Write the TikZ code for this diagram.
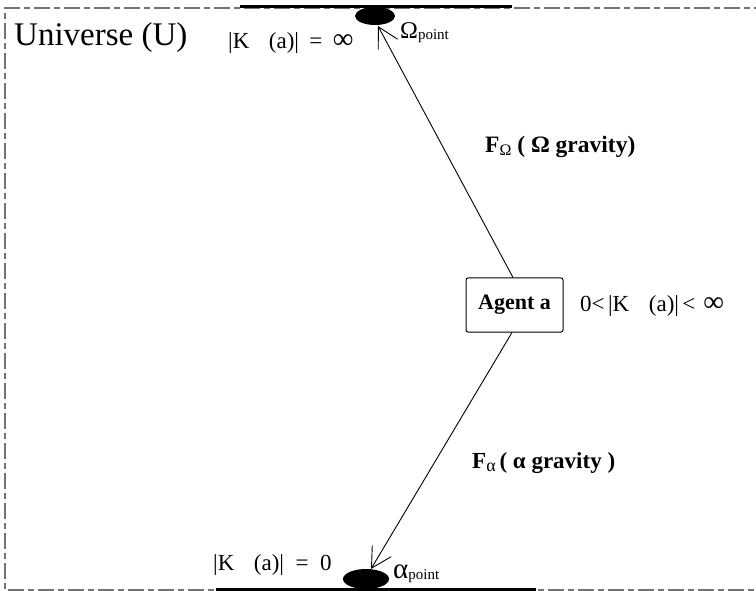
\documentclass[tikz,border=0pt]{standalone}
\usepackage{fontspec}
\setmainfont{Liberation Serif}
\usetikzlibrary{arrows.meta}
\newcommand{\biginf}{{\fontsize{29}{29}\selectfont ∞}}
\begin{document}
\begin{tikzpicture}[x=1pt,y=-1pt,
  lbl/.style={inner sep=0pt,anchor=west},
  force/.style={draw=black,line width=0.9pt,-{Straight Barb[length=20pt,width=22pt,line width=0.9pt]}},
  border/.style={draw=black!55,line width=1.2pt,dash pattern=on 16pt off 4pt on 6pt off 4pt},
  wall/.style={draw=black,line width=3pt}]
\useasboundingbox (0,0) rectangle (756,591);
\draw[border] (770,8) -- (5,8) -- (5,590) -- (770,590);
\draw[wall] (240,7) -- (512,7);
\draw[wall] (216,589) -- (536,589);
\fill (375,16) ellipse [x radius=20pt,y radius=9pt];
\fill (366,579) ellipse [x radius=23pt,y radius=10pt];
\node[draw,rounded corners=2pt,line width=1pt,minimum width=97pt,minimum height=54pt,inner sep=0pt,font=\fontsize{22}{22}\selectfont\bfseries] (agent) at (514.5,305) {Agent a};
\coordinate (otip) at (378,26);
\coordinate (atip) at (371,569);
\draw[force] (agent.north -| 513,0) -- (otip);
\draw[force] (agent.south -| 512,0) -- (atip);
\node[lbl,font=\fontsize{33}{33}\selectfont] (univ) at (14,38) {Universe (U)};
\node[lbl,font=\fontsize{23}{23}\selectfont] (kinf) at (228,43) {|K\hspace{0.85em}(a)|\hspace{0.45em}=\hspace{0.45em}\biginf};
\node[lbl,font=\fontsize{24}{24}\selectfont] (opt) at (400,33) {Ω\raisebox{-0.1ex}{\fontsize{15}{15}\selectfont point}};
\node[lbl,font=\fontsize{23.5}{23.5}\selectfont\bfseries] (fo) at (485,147) {F\raisebox{-0.3ex}{\fontsize{16}{16}\selectfont\mdseries Ω}\ ( Ω gravity)};
\node[lbl,font=\fontsize{23}{23}\selectfont] (kmid) at (580,306) {0<\hspace{0.15em}|K\hspace{0.85em}(a)|\hspace{0.15em}<\hspace{0.35em}\biginf};
\node[lbl,font=\fontsize{23}{23}\selectfont\bfseries] (fa) at (472,463) {F\raisebox{-0.3ex}{\fontsize{18}{18}\selectfont\mdseries α}\,( α gravity )};
\node[lbl,font=\fontsize{23}{23}\selectfont] (kzero) at (213,565) {|K\hspace{0.85em}(a)|\hspace{0.5em}=\hspace{0.5em}0};
\node[lbl,font=\fontsize{29}{29}\selectfont] (apt) at (393,574) {α\raisebox{-0.1ex}{\fontsize{15}{15}\selectfont point}};
\end{tikzpicture}
\end{document}
